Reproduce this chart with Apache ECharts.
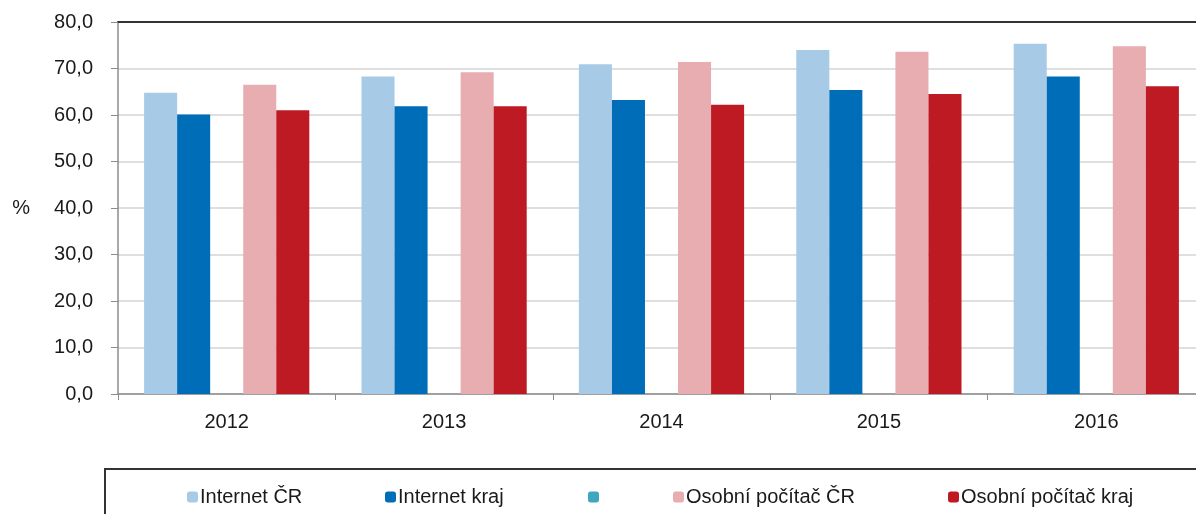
<!DOCTYPE html>
<html>
<head>
<meta charset="utf-8">
<script src="https://cdn.jsdelivr.net/npm/echarts@6/dist/echarts.min.js"></script>
<style>
html,body{margin:0;padding:0;background:#fff;overflow:hidden;}
#chart{width:1212px;height:514px;}
</style>
</head>
<body>
<div id="chart"></div>
<script>
// roky a hodnoty (%)
var years = ['2012', '2013', '2014', '2015', '2016'];
var internetCR = [64.8, 68.3, 70.9, 74.0, 75.3];
var internetKraj = [60.1, 61.9, 63.2, 65.4, 68.3];
var pcCR = [66.5, 69.2, 71.4, 73.6, 74.8];
var pcKraj = [61.0, 61.9, 62.2, 64.5, 66.2];
var emptySeries = ['-', '-', '-', '-', '-'];
var seriesNames = ['Internet ČR', 'Internet kraj', ' ', 'Osobní počítač ČR', 'Osobní počítač kraj'];
var legendLeft = [182, 380, 583, 668, 943];

var chart = echarts.init(document.getElementById('chart'));

var colors = ['#a7cbe6', '#006db9', '#3fa6bf', '#e7adb1', '#be1a23'];
var values = [internetCR, internetKraj, emptySeries, pcCR, pcKraj];

var series = [];
var legends = [];
for (var i = 0; i < seriesNames.length; i++) {
    series.push({
        name: seriesNames[i],
        type: 'bar',
        data: values[i],
        barGap: 0,
        barCategoryGap: '24%',
        itemStyle: { color: colors[i] }
    });
    legends.push({
        data: [seriesNames[i]],
        left: legendLeft[i],
        top: 482,
        itemWidth: 11,
        itemHeight: 11,
        itemGap: 0,
        selectedMode: false,
        textStyle: { fontFamily: 'Liberation Sans', fontSize: 20, color: '#1a1a1a', padding: [0, 0, 0, -3] }
    });
}

var option = {
    animation: false,
    color: colors,
    textStyle: { fontFamily: 'Liberation Sans' },
    grid: { left: 118, top: 22, right: 7, bottom: 120 },
    legend: legends,
    xAxis: [{
        type: 'category',
        data: years,
        axisLine: { lineStyle: { color: '#8c8c8c', width: 1.5 } },
        axisTick: { show: true, length: 6, lineStyle: { color: '#8c8c8c' } },
        axisLabel: { fontSize: 20, color: '#1a1a1a', margin: 18 }
    }, {
        type: 'category',
        data: years,
        position: 'top',
        axisLine: { lineStyle: { color: '#333', width: 2 } },
        axisTick: { show: false },
        axisLabel: { show: false }
    }],
    yAxis: {
        type: 'value',
        min: 0,
        max: 80,
        interval: 10,
        name: '%',
        nameLocation: 'middle',
        nameRotate: 0,
        nameGap: 88,
        nameTextStyle: { fontSize: 20, color: '#1a1a1a' },
        axisLine: { show: true, lineStyle: { color: '#8c8c8c', width: 1.5 } },
        axisTick: { show: true, length: 7, lineStyle: { color: '#8c8c8c' } },
        axisLabel: {
            fontSize: 20,
            color: '#1a1a1a',
            margin: 25,
            formatter: function (v) { return v.toFixed(1).replace('.', ','); }
        },
        splitLine: { lineStyle: { color: '#d4d4d4', width: 1.5 } }
    },
    graphic: [{
        type: 'rect',
        shape: { x: 105, y: 469, width: 1200, height: 100 },
        style: { fill: 'none', stroke: '#333', lineWidth: 2 }
    }],
    series: series
};

chart.setOption(option);
</script>
</body>
</html>
